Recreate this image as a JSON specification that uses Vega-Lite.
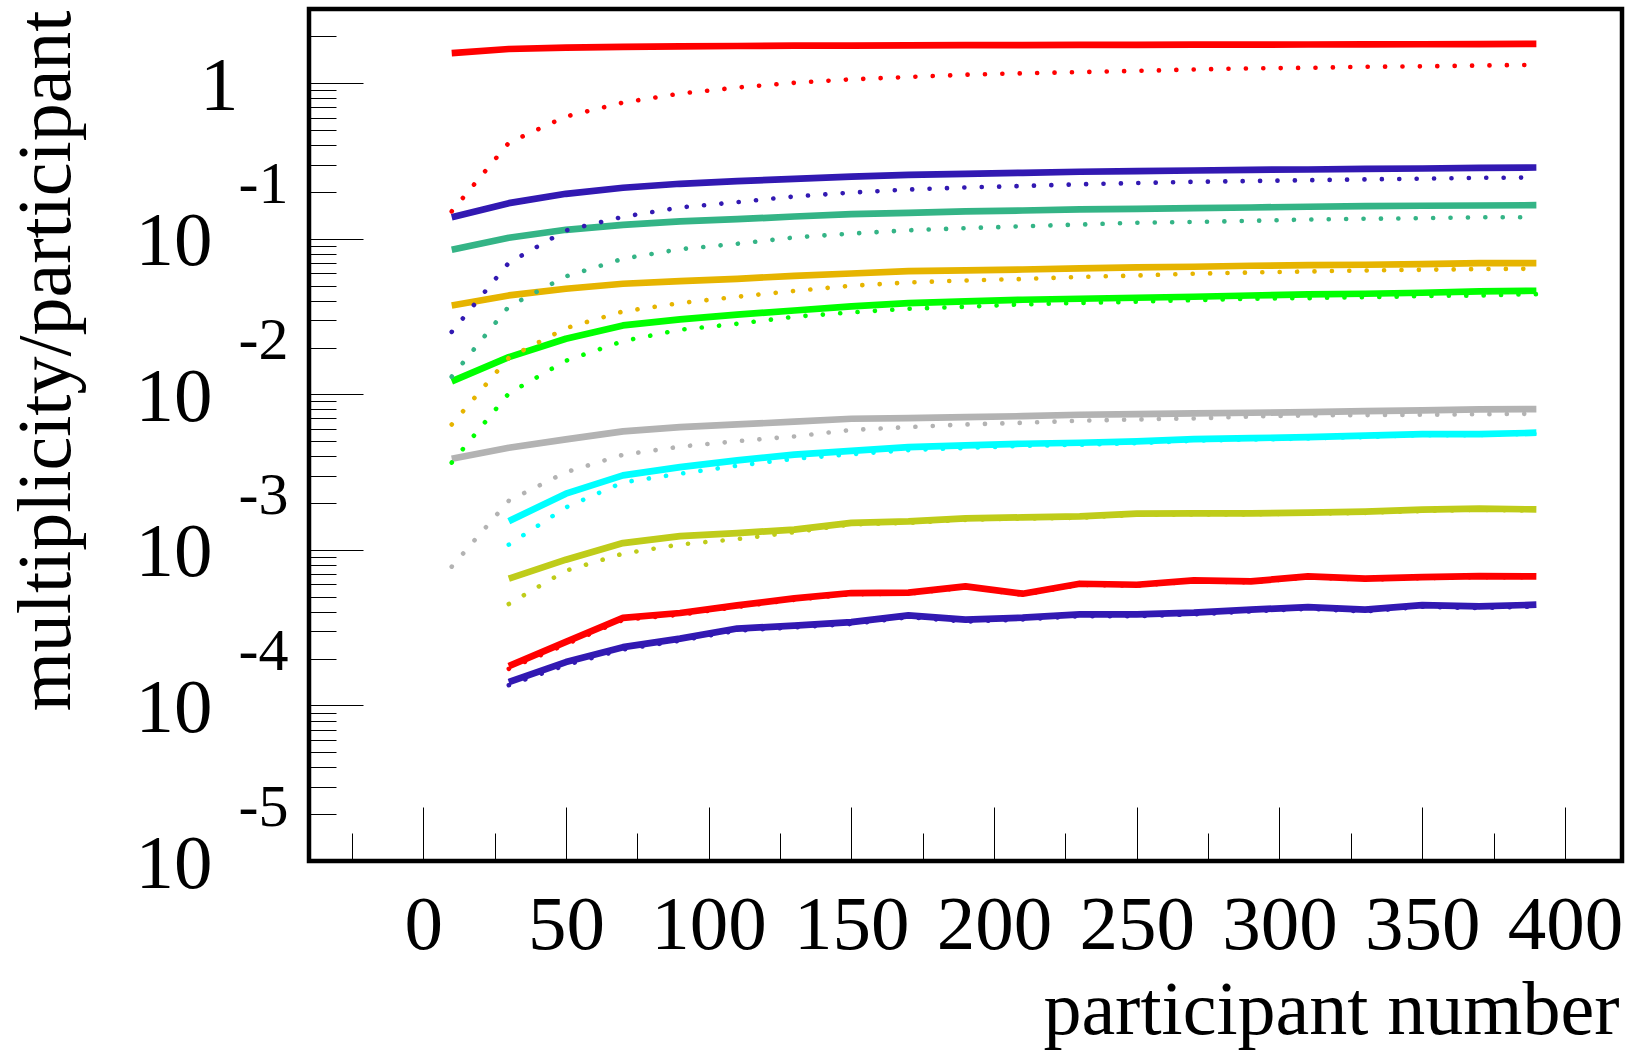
{
  "$schema": "https://vega.github.io/schema/vega-lite/v6.json",
  "width": 1313,
  "height": 852,
  "autosize": {"type": "none"},
  "padding": {"left": 309, "top": 9, "right": 7, "bottom": 191},
  "background": "white",
  "config": {
    "view": {"stroke": "black", "strokeWidth": 4.5},
    "axis": {"grid": false, "domain": false, "labelFont": "Liberation Serif", "titleFont": "Liberation Serif", "labelColor": "black", "titleColor": "black", "tickColor": "black", "tickWidth": 1, "titleFontWeight": "normal", "labelFlush": false, "labelOverlap": false}
  },
  "data": {"values": [
    {"x": 10, "s1": 1.56, "s2": 0.1377, "s3": 0.085, "s4": 0.03727, "s5": 0.01211, "s6": 0.003855, "d1": 0.15, "d2": 0.0252, "d3": 0.013, "d4": 0.0064, "d5": 0.00364, "d6": 0.00078},
    {"x": 30, "s1": 1.66, "s2": 0.1694, "s3": 0.1015, "s4": 0.04322, "s5": 0.01734, "s6": 0.004537, "s7": 0.00153, "s8": 0.000653, "s9": 0.000179, "s10": 0.0001414, "d1": 0.414, "d2": 0.0701, "d3": 0.0367, "d4": 0.01718, "d5": 0.01014, "d6": 0.00207, "d7": 0.00108, "d8": 0.000449, "d9": 0.000172, "d10": 0.000135},
    {"x": 50, "s1": 1.695, "s2": 0.1946, "s3": 0.1142, "s4": 0.04775, "s5": 0.02277, "s6": 0.00513, "s7": 0.002298, "s8": 0.000865, "s9": 0.000256, "s10": 0.00019, "d1": 0.611, "d2": 0.1131, "d3": 0.0573, "d4": 0.02664, "d5": 0.01644, "d6": 0.00316, "d7": 0.001876, "d8": 0.000735, "d9": 0.000247, "d10": 0.000182},
    {"x": 70, "s1": 1.714, "s2": 0.2128, "s3": 0.123, "s4": 0.0514, "s5": 0.02773, "s6": 0.005777, "s7": 0.003012, "s8": 0.001106, "s9": 0.000366, "s10": 0.000237, "d1": 0.751, "d2": 0.1384, "d3": 0.0744, "d4": 0.0341, "d5": 0.02198, "d6": 0.00409, "d7": 0.002716, "d8": 0.000946, "d9": 0.000355, "d10": 0.000229},
    {"x": 90, "s1": 1.725, "s2": 0.2257, "s3": 0.1292, "s4": 0.0534, "s5": 0.0303, "s6": 0.006155, "s7": 0.003404, "s8": 0.001227, "s9": 0.000393, "s10": 0.000269, "d1": 0.858, "d2": 0.159, "d3": 0.0857, "d4": 0.0386, "d5": 0.02602, "d6": 0.00461, "d7": 0.00309, "d8": 0.001084, "d9": 0.000383, "d10": 0.000261},
    {"x": 110, "s1": 1.735, "s2": 0.2345, "s3": 0.1336, "s4": 0.0553, "s5": 0.0325, "s6": 0.006406, "s7": 0.00376, "s8": 0.001283, "s9": 0.00044, "s10": 0.000312, "d1": 0.938, "d2": 0.172, "d3": 0.0929, "d4": 0.0424, "d5": 0.02842, "d6": 0.005, "d7": 0.003478, "d8": 0.001173, "d9": 0.00043, "d10": 0.000303},
    {"x": 130, "s1": 1.742, "s2": 0.243, "s3": 0.139, "s4": 0.0578, "s5": 0.0346, "s6": 0.006669, "s7": 0.0041, "s8": 0.001349, "s9": 0.000488, "s10": 0.000326, "d1": 1.006, "d2": 0.187, "d3": 0.102, "d4": 0.0462, "d5": 0.03153, "d6": 0.00536, "d7": 0.00385, "d8": 0.0013, "d9": 0.000478, "d10": 0.000317},
    {"x": 150, "s1": 1.747, "s2": 0.251, "s3": 0.1439, "s4": 0.0598, "s5": 0.03672, "s6": 0.006966, "s7": 0.00433, "s8": 0.001491, "s9": 0.000528, "s10": 0.0003436, "d1": 1.059, "d2": 0.198, "d3": 0.108, "d4": 0.04989, "d5": 0.0336, "d6": 0.0059, "d7": 0.00412, "d8": 0.00146, "d9": 0.000519, "d10": 0.000334},
    {"x": 170, "s1": 1.751, "s2": 0.2578, "s3": 0.1469, "s4": 0.0619, "s5": 0.03856, "s6": 0.007029, "s7": 0.004577, "s8": 0.001524, "s9": 0.000531, "s10": 0.0003794, "d1": 1.096, "d2": 0.2074, "d3": 0.1134, "d4": 0.05238, "d5": 0.03549, "d6": 0.006153, "d7": 0.00438, "d8": 0.00149, "d9": 0.000523, "d10": 0.000369},
    {"x": 190, "s1": 1.755, "s2": 0.2617, "s3": 0.1498, "s4": 0.06255, "s5": 0.03954, "s6": 0.007134, "s7": 0.004693, "s8": 0.001594, "s9": 0.000583, "s10": 0.0003559, "d1": 1.134, "d2": 0.2137, "d3": 0.117, "d4": 0.05395, "d5": 0.03656, "d6": 0.006404, "d7": 0.00452, "d8": 0.00156, "d9": 0.000574, "d10": 0.000346},
    {"x": 210, "s1": 1.758, "s2": 0.2656, "s3": 0.152, "s4": 0.06348, "s5": 0.04055, "s6": 0.00724, "s7": 0.004813, "s8": 0.001618, "s9": 0.000523, "s10": 0.0003666, "d1": 1.158, "d2": 0.2185, "d3": 0.1203, "d4": 0.05515, "d5": 0.03783, "d6": 0.006566, "d7": 0.00466, "d8": 0.00159, "d9": 0.000515, "d10": 0.000357},
    {"x": 230, "s1": 1.762, "s2": 0.2696, "s3": 0.1543, "s4": 0.06443, "s5": 0.04115, "s6": 0.007392, "s7": 0.004885, "s8": 0.001642, "s9": 0.000606, "s10": 0.0003849, "d1": 1.18, "d2": 0.2239, "d3": 0.1235, "d4": 0.05681, "d5": 0.03868, "d6": 0.006763, "d7": 0.00474, "d8": 0.00161, "d9": 0.000597, "d10": 0.000375},
    {"x": 250, "s1": 1.765, "s2": 0.272, "s3": 0.1559, "s4": 0.06539, "s5": 0.04176, "s6": 0.007459, "s7": 0.00498, "s8": 0.001711, "s9": 0.000597, "s10": 0.0003849, "d1": 1.201, "d2": 0.2284, "d3": 0.1267, "d4": 0.05808, "d5": 0.03937, "d6": 0.006895, "d7": 0.00485, "d8": 0.00168, "d9": 0.000588, "d10": 0.000375},
    {"x": 270, "s1": 1.768, "s2": 0.2748, "s3": 0.1573, "s4": 0.06607, "s5": 0.04238, "s6": 0.007537, "s7": 0.005153, "s8": 0.001716, "s9": 0.000637, "s10": 0.0003948, "d1": 1.225, "d2": 0.2323, "d3": 0.1282, "d4": 0.05965, "d5": 0.04031, "d6": 0.006998, "d7": 0.00503, "d8": 0.00169, "d9": 0.000628, "d10": 0.000385},
    {"x": 290, "s1": 1.771, "s2": 0.2776, "s3": 0.1589, "s4": 0.06706, "s5": 0.04319, "s6": 0.007615, "s7": 0.00523, "s8": 0.001716, "s9": 0.000627, "s10": 0.0004127, "d1": 1.246, "d2": 0.2352, "d3": 0.1305, "d4": 0.06072, "d5": 0.04115, "d6": 0.007211, "d7": 0.00512, "d8": 0.00169, "d9": 0.000618, "d10": 0.000402},
    {"x": 310, "s1": 1.774, "s2": 0.2789, "s3": 0.1606, "s4": 0.06765, "s5": 0.04385, "s6": 0.007683, "s7": 0.005307, "s8": 0.001736, "s9": 0.000676, "s10": 0.0004289, "d1": 1.256, "d2": 0.2379, "d3": 0.133, "d4": 0.06162, "d5": 0.04153, "d6": 0.00732, "d7": 0.0052, "d8": 0.00171, "d9": 0.000666, "d10": 0.000418},
    {"x": 330, "s1": 1.777, "s2": 0.2818, "s3": 0.162, "s4": 0.06806, "s5": 0.04431, "s6": 0.007797, "s7": 0.005419, "s8": 0.00176, "s9": 0.000653, "s10": 0.0004127, "d1": 1.275, "d2": 0.241, "d3": 0.1344, "d4": 0.06255, "d5": 0.04214, "d6": 0.007353, "d7": 0.00532, "d8": 0.00173, "d9": 0.000643, "d10": 0.000402},
    {"x": 350, "s1": 1.781, "s2": 0.283, "s3": 0.163, "s4": 0.06867, "s5": 0.04498, "s6": 0.007878, "s7": 0.005549, "s8": 0.001813, "s9": 0.000669, "s10": 0.0004418, "d1": 1.284, "d2": 0.2434, "d3": 0.1356, "d4": 0.06319, "d5": 0.04277, "d6": 0.007392, "d7": 0.00546, "d8": 0.00178, "d9": 0.000659, "d10": 0.000431},
    {"x": 370, "s1": 1.785, "s2": 0.286, "s3": 0.1637, "s4": 0.0697, "s5": 0.04585, "s6": 0.007995, "s7": 0.005549, "s8": 0.00184, "s9": 0.000679, "s10": 0.0004333, "d1": 1.3, "d2": 0.2464, "d3": 0.1375, "d4": 0.06394, "d5": 0.04322, "d6": 0.007448, "d7": 0.00547, "d8": 0.00181, "d9": 0.000669, "d10": 0.000422},
    {"x": 390, "s1": 1.79, "s2": 0.2873, "s3": 0.1644, "s4": 0.0697, "s5": 0.04632, "s6": 0.008031, "s7": 0.005665, "s8": 0.001821, "s9": 0.000676, "s10": 0.0004444, "d1": 1.313, "d2": 0.2477, "d3": 0.1377, "d4": 0.06413, "d5": 0.04406, "d6": 0.007503, "d7": 0.00559, "d8": 0.00179, "d9": 0.000666, "d10": 0.000433}
  ]},
  "resolve": {"axis": {"x": "independent", "y": "independent"}},
  "layer": [
    {
      "transform": [{"fold": ["s1", "s2", "s3", "s4", "s5"]}],
      "mark": {"type": "line", "strokeWidth": 6.7, "strokeCap": "butt", "strokeJoin": "round"},
      "encoding": {
        "x": {"field": "x", "type": "quantitative", "scale": {"domain": [-40, 420], "nice": false, "zero": false},
              "axis": {"orient": "bottom", "values": [0, 50, 100, 150, 200, 250, 300, 350, 400], "labels": false, "tickSize": -54, "title": null}},
        "y": {"field": "value", "type": "quantitative", "scale": {"type": "log", "domain": [0.00001, 3], "nice": false},
              "axis": {"orient": "left", "values": [0.00001, 0.0001, 0.001, 0.01, 0.1, 1], "labels": false, "tickSize": -54, "title": null}},
        "color": {"field": "key", "type": "nominal", "legend": null,
                  "scale": {"domain": ["s1","s2","s3","s4","s5","s6","s7","s8","s9","s10","d1","d2","d3","d4","d5","d6","d7","d8","d9","d10"],
                            "range": ["#ff0000","#3219b2","#34b486","#e6b400","#00ff00","#b3b3b3","#00ffff","#bfcc1a","#ff0000","#3219b2","#ff0000","#3219b2","#34b486","#e6b400","#00ff00","#b3b3b3","#00ffff","#bfcc1a","#ff0000","#3219b2"]}}
      }
    },
    {
      "transform": [{"fold": ["s6", "s7", "s8", "s9", "s10"]}],
      "mark": {"type": "line", "strokeWidth": 6.7, "strokeCap": "butt", "strokeJoin": "round"},
      "encoding": {
        "x": {"field": "x", "type": "quantitative",
              "axis": {"orient": "bottom", "values": [-25, 25, 75, 125, 175, 225, 275, 325, 375], "labels": false, "tickSize": -28, "title": null}},
        "y": {"field": "value", "type": "quantitative",
              "axis": {"orient": "left", "values": [0.00002,0.00003,0.00004,0.00005,0.00006,0.00007,0.00008,0.00009,0.0002,0.0003,0.0004,0.0005,0.0006,0.0007,0.0008,0.0009,0.002,0.003,0.004,0.005,0.006,0.007,0.008,0.009,0.02,0.03,0.04,0.05,0.06,0.07,0.08,0.09,0.2,0.3,0.4,0.5,0.6,0.7,0.8,0.9,2], "labels": false, "tickSize": -27, "title": null}},
        "color": {"field": "key", "type": "nominal", "legend": null}
      }
    },
    {
      "transform": [{"fold": ["d1", "d2", "d3", "d4", "d5"]}],
      "mark": {"type": "line", "strokeWidth": 4.6, "strokeCap": "round", "strokeDash": [0.1, 17.3]},
      "encoding": {
        "x": {"field": "x", "type": "quantitative",
              "axis": {"orient": "bottom", "values": [0, 50, 100, 150, 200, 250, 300, 350, 400], "ticks": false, "labelFontSize": 77, "labelPadding": 26,
                       "title": "participant number", "titleFontSize": 76, "titleAnchor": "end", "titleAlign": "right", "titleBaseline": "alphabetic", "titleX": 1310, "titleY": 172}},
        "y": {"field": "value", "type": "quantitative",
              "axis": {"orient": "left", "values": [0.00001, 0.0001, 0.001, 0.01, 0.1, 1], "ticks": false, "labelFontSize": 77,
                       "labelExpr": "datum.value > 0.5 ? '1' : '10'", "labelAlign": "right", "labelBaseline": "middle", "labelOffset": 3,
                       "labelPadding": {"condition": {"test": "datum.value > 0.5", "value": 71}, "value": 97},
                       "title": "multiplicity/participant", "titleFontSize": 76, "titleAngle": -90, "titleAnchor": "end", "titleAlign": "right", "titleBaseline": "alphabetic", "titleX": -240, "titleY": 1}},
        "color": {"field": "key", "type": "nominal", "legend": null}
      }
    },
    {
      "transform": [{"fold": ["d6", "d7", "d8", "d9", "d10"]}],
      "mark": {"type": "line", "strokeWidth": 4.6, "strokeCap": "round", "strokeDash": [0.1, 17.3]},
      "encoding": {
        "x": {"field": "x", "type": "quantitative", "axis": null},
        "y": {"field": "value", "type": "quantitative",
              "axis": {"orient": "left", "values": [0.00001, 0.0001, 0.001, 0.01, 0.1], "ticks": false, "labelFontSize": 60,
                       "labelExpr": "'-' + round(-log(datum.value) / LN10)", "labelAlign": "right", "labelBaseline": "middle", "labelOffset": -54, "labelPadding": 21, "title": null}},
        "color": {"field": "key", "type": "nominal", "legend": null}
      }
    }
  ]
}
